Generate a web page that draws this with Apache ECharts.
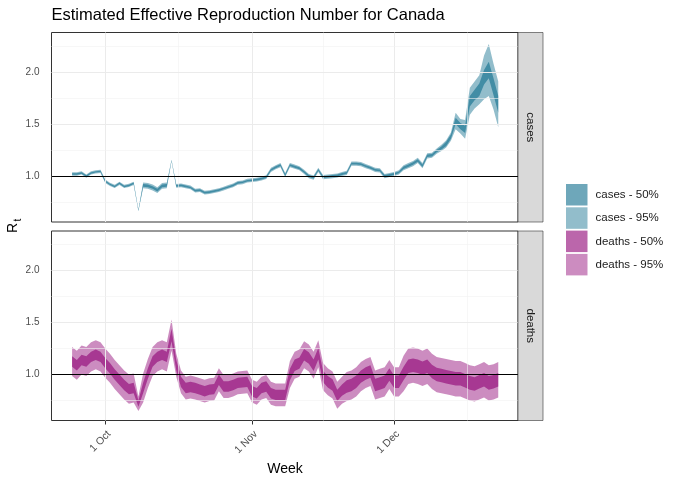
<!DOCTYPE html>
<html><head><meta charset="utf-8">
<script src="https://cdn.jsdelivr.net/npm/echarts@6/dist/echarts.min.js"></script>
<style>html,body{margin:0;padding:0;background:#fff}#c{width:680px;height:486px}</style>
</head><body><div id="c"></div>
<script>
// ---------- data ----------
const chartTitle = 'Estimated Effective Reproduction Number for Canada';
const facetNames = ['cases', 'deaths'];
const legendNames = ['cases - 50%', 'cases - 95%', 'deaths - 50%', 'deaths - 95%'];
const firstDate = '2020-09-24';           // daily estimates start here
const originDate = '2020-10-01';
const tickDates = ['2020-10-01', '2020-11-01', '2020-12-01', '2021-01-01'];
const tickLabels = ['1 Oct', '1 Nov', '1 Dec', '1 Jan'];
const yTicks = [1.0, 1.5, 2.0];
const yMinorTicks = [0.75, 1.25, 1.75, 2.25];
const refLine = 1.0;

const casesMid = [1.02,1.02,1.03,1.00,1.03,1.04,1.045,
  0.95,0.92,0.90,0.93,0.90,0.91,0.93,0.67,0.91,0.905,
  0.89,0.865,0.905,0.91,1.15,0.905,0.91,0.90,0.89,0.86,
  0.865,0.84,0.845,0.855,0.865,0.88,0.895,0.91,0.935,0.94,
  0.955,
  0.96,0.965,0.975,0.99,1.06,1.085,1.105,1.01,1.105,1.09,
  1.075,1.04,1.00,0.985,1.06,0.99,0.995,1.00,1.005,1.02,
  1.03,1.12,1.12,1.115,1.095,1.08,1.06,1.055,1.00,1.01,
  1.02,1.035,1.08,1.10,1.12,1.15,1.10,1.195,1.20,1.24,
  1.27,1.31,1.38,1.53,1.48,1.45,1.72,1.78,1.83,1.95,
  2.02,1.86,1.69];
const casesHalf50 = [0.007,0.007,0.007,0.007,0.007,0.007,0.007,0.007,0.007,0.007,0.007,0.007,0.007,0.007,
  0.003,
  0.013,0.013,0.013,0.013,0.013,0.013,
  0.003,
  0.008,0.008,0.008,0.008,0.008,0.008,0.008,0.008,0.008,0.008,0.008,0.008,0.008,0.008,0.008,0.008,0.008,0.008,0.008,0.008,
  0.009,0.009,0.009,0.009,0.009,0.009,0.009,0.009,0.009,0.009,0.009,0.009,0.009,0.009,0.009,0.009,0.009,0.009,0.009,0.009,0.009,0.009,0.009,0.009,0.009,0.009,0.009,0.009,
  0.012,0.012,0.012,0.012,0.012,0.012,0.012,0.012,
  0.015,0.02,0.02,0.03,0.03,0.035,0.05,0.05,0.06,0.07,0.08,0.08,0.08];
const casesHalf95 = [0.016,0.016,0.016,0.016,0.016,0.016,0.016,0.016,0.016,0.016,0.016,0.016,0.016,0.016,
  0.008,
  0.028,0.028,0.028,0.028,0.028,0.028,
  0.008,
  0.018,0.018,0.018,0.018,0.018,0.018,0.018,0.018,0.018,0.018,0.018,0.018,0.018,0.018,0.018,0.018,0.018,0.018,0.018,0.018,
  0.02,0.02,0.02,0.02,0.02,0.02,0.02,0.02,0.02,0.02,0.02,0.02,0.02,0.02,0.02,0.02,0.02,0.02,0.02,0.02,0.02,0.02,0.02,0.02,0.02,0.02,0.02,0.02,
  0.025,0.025,0.025,0.025,0.025,0.025,0.025,0.025,
  0.03,0.035,0.04,0.08,0.07,0.09,0.13,0.13,0.14,0.21,0.25,0.22,0.22];

const deathsMid = [1.125,1.09,1.14,1.125,1.17,1.19,1.17,
  1.11,1.06,1.00,0.95,0.90,0.86,0.87,0.72,0.87,1.01,
  1.125,1.17,1.19,1.17,1.38,1.09,0.93,0.87,0.88,0.87,
  0.855,0.84,0.855,0.86,0.95,0.885,0.885,0.90,0.92,0.925,
  0.93,0.84,0.82,0.87,0.885,0.82,0.805,0.805,0.805,1.00,
  1.09,1.11,1.19,1.16,1.09,1.20,0.98,0.93,0.90,0.80,
  0.85,0.885,0.90,0.93,0.98,1.01,1.03,0.90,0.915,0.93,
  1.00,0.93,0.93,1.01,1.08,1.09,1.08,1.06,1.08,1.03,
  1.00,0.99,0.98,0.97,0.96,0.96,0.94,0.92,0.91,0.93,
  0.95,0.92,0.93,0.95];
const deathsHalf50 = [0.05,0.05,0.05,0.05,0.05,0.05,0.05,0.05,0.05,0.05,0.05,0.05,0.05,0.05,
  0.03,
  0.05,0.05,0.05,0.05,0.05,0.05,
  0.06,
  0.05,0.05,0.05,0.05,0.05,0.05,0.05,0.05,0.05,0.05,0.05,0.05,0.05,0.05,0.05,0.05,0.05,0.05,0.05,0.05,0.05,0.05,0.05,0.05,
  0.055,0.055,0.055,0.055,0.055,0.055,0.055,0.055,0.055,0.055,0.055,0.055,
  0.06,0.06,0.06,0.06,0.06,0.06,0.06,0.06,0.06,0.06,0.06,0.06,
  0.065,0.065,0.065,0.065,0.065,0.065,0.065,0.065,0.065,0.065,0.065,0.065,0.065,0.065,0.065,0.065,0.065,0.065,0.065,0.065,0.065];
const deathsHalf95 = [0.14,0.14,0.14,0.14,0.14,0.14,0.14,0.14,0.14,0.14,0.14,0.14,0.14,0.14,
  0.07,
  0.14,0.14,0.14,0.14,0.14,0.14,
  0.15,
  0.11,0.11,0.11,0.11,0.11,0.11,0.11,0.11,0.11,0.11,0.11,0.11,0.11,0.11,0.11,0.11,0.11,0.11,0.11,0.11,0.11,0.11,0.11,0.11,
  0.13,0.13,0.13,0.13,0.13,0.13,0.13,0.13,0.13,0.13,0.13,0.13,
  0.14,0.14,0.14,0.14,0.14,0.14,0.14,0.14,0.14,0.14,0.14,0.14,
  0.17,0.17,0.17,0.17,0.17,0.17,0.17,0.17,0.17,0.17,0.17,0.17,0.17,0.17,0.17,0.17,0.17,0.17,0.17,0.17,0.17];

// ---------- helpers ----------
const FONT = '"Liberation Sans", Arial, Helvetica, sans-serif';
const DAY = 86400000;
function dayNum(s) { return (Date.parse(s + 'T00:00:00Z') - Date.parse(originDate + 'T00:00:00Z')) / DAY; }
const startDay = dayNum(firstDate);
const days = casesMid.map((_, i) => startDay + i);
const majorDays = tickDates.map(dayNum);
const minorDays = majorDays.slice(1).map((d, i) => (d + majorDays[i]) / 2);

const COL_CASES = '14,109,140';
const COL_DEATHS = '142,0,115';

const X_MIN = -11.35, X_MAX = 87.17, Y_MIN = 0.558, Y_MAX = 2.381;

function bounds(mid, half, sign) { return mid.map((m, i) => m + sign * half[i]); }

function band(name, gi, lo, hi, color, z) {
  return {
    name: name, type: 'custom', xAxisIndex: gi, yAxisIndex: gi, z: z, silent: true,
    itemStyle: { color: color },
    data: days.map((d, i) => [d, lo[i], hi[i]]),
    encode: { x: 0, y: [1, 2] },
    renderItem: function (params, api) {
      if (params.dataIndex !== 0) return null;
      const pts = [];
      for (let i = 0; i < days.length; i++) pts.push(api.coord([days[i], hi[i]]));
      for (let i = days.length - 1; i >= 0; i--) pts.push(api.coord([days[i], lo[i]]));
      return { type: 'polygon', shape: { points: pts }, style: { fill: color } };
    }
  };
}

function gridSeries(gi) {
  const d = [];
  majorDays.forEach(v => d.push({ xAxis: v, lineStyle: { color: '#ebebeb', width: 1, type: 'solid' } }));
  minorDays.forEach(v => d.push({ xAxis: v, lineStyle: { color: '#f2f2f2', width: 0.6, type: 'solid' } }));
  yTicks.forEach(v => d.push({ yAxis: v, lineStyle: { color: '#ebebeb', width: 1, type: 'solid' } }));
  yMinorTicks.forEach(v => d.push({ yAxis: v, lineStyle: { color: '#f2f2f2', width: 0.6, type: 'solid' } }));
  return {
    type: 'line', xAxisIndex: gi, yAxisIndex: gi, z: 1, data: [[0, 1]], symbol: 'none',
    lineStyle: { opacity: 0 }, silent: true,
    markLine: { silent: true, symbol: ['none', 'none'], label: { show: false }, animation: false, data: d }
  };
}
function refSeries(gi) {
  return {
    type: 'line', xAxisIndex: gi, yAxisIndex: gi, z: 5, data: [[0, 1]], symbol: 'none',
    lineStyle: { opacity: 0 }, silent: true,
    markLine: { silent: true, symbol: ['none', 'none'], label: { show: false }, animation: false,
      data: [{ yAxis: refLine, lineStyle: { color: '#000', width: 1.1, type: 'solid' } }] }
  };
}

const G = [
  { left: 51.5, top: 32.5, width: 466.5, height: 189.5 },
  { left: 51.5, top: 231, width: 466.5, height: 189.5 }
];

const series = [
  gridSeries(0), gridSeries(1),
  band(legendNames[1], 0, bounds(casesMid, casesHalf95, -1), bounds(casesMid, casesHalf95, 1), 'rgba(' + COL_CASES + ',0.45)', 2),
  band(legendNames[0], 0, bounds(casesMid, casesHalf50, -1), bounds(casesMid, casesHalf50, 1), 'rgba(' + COL_CASES + ',0.6)', 3),
  band(legendNames[3], 1, bounds(deathsMid, deathsHalf95, -1), bounds(deathsMid, deathsHalf95, 1), 'rgba(' + COL_DEATHS + ',0.45)', 2),
  band(legendNames[2], 1, bounds(deathsMid, deathsHalf50, -1), bounds(deathsMid, deathsHalf50, 1), 'rgba(' + COL_DEATHS + ',0.6)', 3),
  refSeries(0), refSeries(1)
];

function xAxisFor(gi, showLabels) {
  return {
    type: 'value', gridIndex: gi, min: X_MIN, max: X_MAX,
    axisLine: { show: false }, splitLine: { show: false },
    axisTick: showLabels ? { show: true, customValues: majorDays.slice(0, 3), length: 4, lineStyle: { color: '#333', width: 1 } } : { show: false },
    axisLabel: showLabels ? {
      show: true, customValues: majorDays.slice(0, 3), rotate: 45, margin: 8, verticalAlign: 'top', align: 'right',
      fontSize: 10.5, color: '#4d4d4d', fontFamily: FONT,
      formatter: v => tickLabels[majorDays.indexOf(v)]
    } : { show: false }
  };
}
function yAxisFor(gi) {
  return {
    type: 'value', gridIndex: gi, min: Y_MIN, max: Y_MAX,
    axisLine: { show: false }, splitLine: { show: false },
    axisTick: { show: true, customValues: yTicks, length: 4, lineStyle: { color: '#333', width: 1 } },
    axisLabel: { show: true, customValues: yTicks, margin: 12, fontSize: 10, color: '#4d4d4d', fontFamily: FONT,
      formatter: v => v.toFixed(1) }
  };
}

const graphics = [
  { type: 'text', x: 51.5, y: 15.5, style: { text: chartTitle, fill: '#000', font: '16.5px ' + FONT, align: 'left', verticalAlign: 'middle' } },
  { type: 'text', x: 285, y: 469, style: { text: 'Week', fill: '#000', font: '14px ' + FONT, align: 'center', verticalAlign: 'middle' } },
  { type: 'text', x: 13.5, y: 228, rotation: Math.PI / 2, style: { text: 'R', fill: '#000', font: '14px ' + FONT, align: 'center', verticalAlign: 'middle' } },
  { type: 'text', x: 18, y: 220, rotation: Math.PI / 2, style: { text: 't', fill: '#000', font: '10px ' + FONT, align: 'center', verticalAlign: 'middle' } }
];
G.forEach((g, i) => {
  graphics.push({ type: 'rect', shape: { x: g.left + g.width, y: g.top, width: 25, height: g.height },
    style: { fill: '#d9d9d9', stroke: '#333', lineWidth: 0.6 }, z: 10 });
  graphics.push({ type: 'text', x: g.left + g.width + 12.5, y: g.top + g.height / 2, rotation: -Math.PI / 2, z: 11,
    style: { text: facetNames[i], fill: '#1a1a1a', font: '11.5px ' + FONT, align: 'center', verticalAlign: 'middle' } });
});

const legendColors = ['rgba(' + COL_CASES + ',0.6)', 'rgba(' + COL_CASES + ',0.45)', 'rgba(' + COL_DEATHS + ',0.6)', 'rgba(' + COL_DEATHS + ',0.45)'];

const option = {
  animation: false,
  backgroundColor: '#fff',
  grid: G.map(g => Object.assign({ show: true, borderColor: '#333', borderWidth: 1, backgroundColor: 'transparent' }, g)),
  xAxis: [xAxisFor(0, false), xAxisFor(1, true)],
  yAxis: [yAxisFor(0), yAxisFor(1)],
  legend: {
    orient: 'vertical', left: 566, top: 184, padding: 0, itemWidth: 21.5, itemHeight: 21.5, itemGap: 1.8,
    icon: 'rect', selectedMode: false,
    textStyle: { fontSize: 11.5, color: '#1a1a1a', fontFamily: FONT, padding: [0, 0, 0, 3] },
    data: legendNames.map((n, i) => ({ name: n, icon: 'rect', itemStyle: { color: legendColors[i], borderWidth: 0 } }))
  },
  graphic: graphics,
  series: series
};
echarts.init(document.getElementById('c'), null, { renderer: 'canvas' }).setOption(option);
</script>
</body></html>
